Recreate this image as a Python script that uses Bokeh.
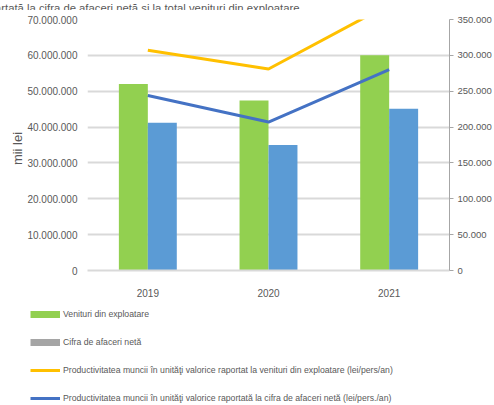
import math
from bokeh.plotting import figure
from bokeh.layouts import column, row
from bokeh.models import (ColumnDataSource, FactorRange, Range1d, LinearAxis, FixedTicker,
                          CustomJSTickFormatter, Legend, LegendItem, Label)
from bokeh.transform import dodge
from bokeh.embed import file_html
from bokeh.resources import INLINE

# ---- data ----
years = ["2019", "2020", "2021"]
venituri = [52_000_000, 47_400_000, 60_000_000]
cifra_afaceri = [41_200_000, 35_000_000, 45_100_000]
prod_venituri = [307_000, 281_000, 371_000]
prod_cifra = [244_000, 207_000, 280_000]
left_ticks = [0, 10_000_000, 20_000_000, 30_000_000, 40_000_000, 50_000_000, 60_000_000, 70_000_000]
right_ticks = [0, 50_000, 100_000, 150_000, 200_000, 250_000, 300_000, 350_000]

title_text = ("Productivitatea muncii în unităţi valorice raportată la cifra de afaceri netă "
              "şi la total venituri din exploatare")
y_title = "mii lei"
labels = ["Venituri din exploatare",
          "Cifra de afaceri netă",
          "Productivitatea muncii în unităţi valorice raportat la venituri din exploatare (lei/pers/an)",
          "Productivitatea muncii în unităţi valorice raportată la cifra de afaceri netă (lei/pers./an)"]

FONT = "Liberation Sans"
TXT = "#595959"
W = 494
STRIP_W = 24
MAIN_H = 295


def blank(width, height):
    f = figure(width=width, height=height, output_backend="svg", toolbar_location=None,
               x_range=Range1d(0, width), y_range=Range1d(0, height),
               x_axis_location=None, y_axis_location=None,
               min_border=0, min_border_left=0, min_border_right=0,
               min_border_top=0, min_border_bottom=0, frame_align=False)
    f.outline_line_color = None
    f.xgrid.visible = False
    f.ygrid.visible = False
    return f


# ---- title strip (cut off at the top, as in the reference) ----
tf = blank(W, 10)
tf.add_layout(Label(x=299, y=5, text=title_text, text_align="right",
                    text_baseline="alphabetic", text_font=FONT,
                    text_font_size="11.3px", text_color=TXT))

# ---- y-axis title strip ----
sf = blank(STRIP_W, MAIN_H)
sf.add_layout(Label(x=16.5, y=157, text=y_title, angle=math.pi / 2, text_align="center",
                    text_baseline="middle", text_font=FONT, text_font_size="13px",
                    text_color=TXT))

# ---- main chart ----
src = ColumnDataSource(dict(year=years, venituri=venituri, cifra=cifra_afaceri,
                            pv=prod_venituri, pc=prod_cifra))

p = figure(width=W - STRIP_W, height=MAIN_H, output_backend="svg", toolbar_location=None,
           x_range=FactorRange(*years, range_padding=0),
           y_range=Range1d(0, 70_000_000), frame_align=False,
           min_border_left=85 - STRIP_W, min_border_right=42, min_border_top=9,
           min_border_bottom=35)
p.extra_y_ranges = {"prod": Range1d(0, 350_000)}
p.outline_line_color = None

fmt = CustomJSTickFormatter(code=r"return Math.round(tick).toString().replace(/\B(?=(\d{3})+(?!\d))/g, '.');")

ya = p.yaxis[0]
ya.ticker = FixedTicker(ticks=left_ticks)
ya.formatter = fmt
ya.axis_line_color = None
ya.major_tick_line_color = None
ya.major_tick_out = 0
ya.major_tick_in = 0
ya.minor_tick_line_color = None
ya.minor_tick_out = 0
ya.major_label_standoff = 10
ya.major_label_text_font = FONT
ya.major_label_text_font_size = "10px"
ya.major_label_text_color = TXT

ra = LinearAxis(y_range_name="prod", ticker=FixedTicker(ticks=right_ticks), formatter=fmt)
ra.axis_line_color = "#a6a6a6"
ra.major_tick_line_color = "#a6a6a6"
ra.major_tick_out = 4
ra.major_tick_in = 0
ra.minor_tick_line_color = None
ra.minor_tick_out = 0
ra.major_label_standoff = 4
ra.major_label_text_font = FONT
ra.major_label_text_font_size = "9.5px"
ra.major_label_text_color = TXT
p.add_layout(ra, "right")

xa = p.xaxis[0]
xa.axis_line_color = "#d9d9d9"
xa.axis_line_width = 2
xa.major_tick_line_color = None
xa.minor_tick_line_color = None
xa.major_label_standoff = 12
xa.major_label_text_font = FONT
xa.major_label_text_font_size = "10px"
xa.major_label_text_color = TXT

p.xgrid.grid_line_color = None
p.ygrid.grid_line_color = "#d9d9d9"
p.ygrid.grid_line_width = 2
p.ygrid.ticker = FixedTicker(ticks=left_ticks)

p.vbar(x=dodge("year", -0.12, range=p.x_range), top="venituri", width=0.24, source=src,
       fill_color="#92d050", line_color=None)
p.vbar(x=dodge("year", 0.12, range=p.x_range), top="cifra", width=0.24, source=src,
       fill_color="#5b9bd5", line_color=None)

p.line(x="year", y="pv", source=src, y_range_name="prod", line_color="#ffc000", line_width=3)
p.line(x="year", y="pc", source=src, y_range_name="prod", line_color="#4472c4", line_width=3)

# ---- legend strip (swatch renderers hold a single NaN point, so they draw nothing) ----
lf = blank(W, 100)
nan_src = ColumnDataSource(dict(x=[0.0], y=[float("nan")]))
swatches = [("#92d050", 7), ("#a5a5a5", 7), ("#ffc000", 3), ("#4472c4", 3)]
items = []
for lab, (col, lw) in zip(labels, swatches):
    r = lf.line(x="x", y="y", source=nan_src, line_color=col, line_width=lw)
    items.append(LegendItem(label=lab, renderers=[r]))

legend = Legend(items=items, location=(30, 0), orientation="vertical",
                glyph_width=30, glyph_height=14, label_height=14, spacing=14,
                padding=0, margin=0, border_line_color=None, background_fill_alpha=0,
                label_standoff=3, label_text_font=FONT, label_text_font_size="8.7px",
                label_text_color=TXT)
lf.add_layout(legend, "center")

layout = column(tf, row(sf, p, spacing=0), lf, spacing=0)
open("out.html", "w").write(file_html(layout, INLINE))
